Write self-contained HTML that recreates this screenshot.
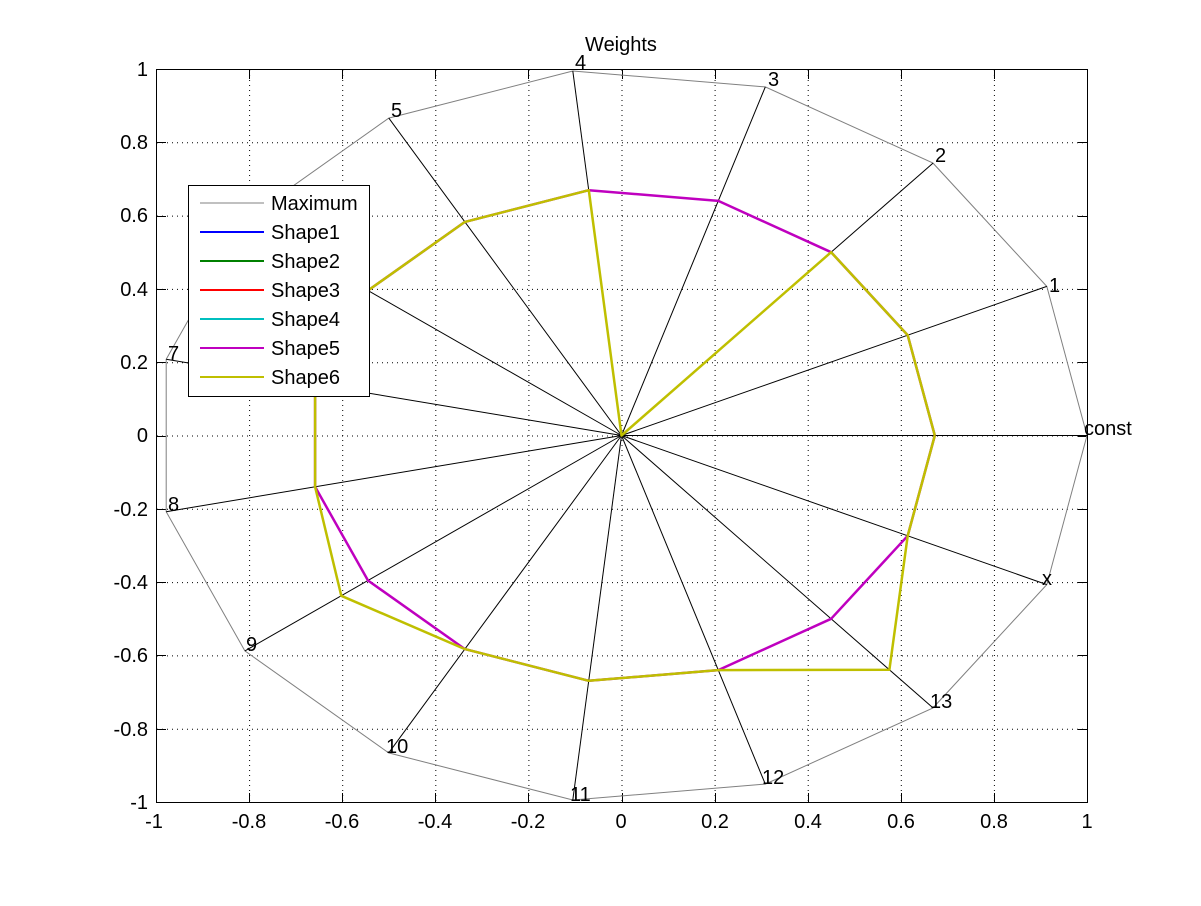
<!DOCTYPE html>
<html><head><meta charset="utf-8"><style>
html,body{margin:0;padding:0;background:#fff}
svg text{font-family:"Liberation Sans",sans-serif;font-size:20px;fill:#000}
</style></head><body>
<svg id="s" width="1201" height="901" xmlns="http://www.w3.org/2000/svg">
<rect x="0" y="0" width="1201" height="901" fill="#fff"/>
<g id="grid" stroke="#000" stroke-width="1" stroke-dasharray="1,4"></g>
<g id="ticks" stroke="#000" stroke-width="1"></g>
<g id="plot"></g>
<rect x="156.5" y="69.5" width="931" height="733" fill="none" stroke="#000" stroke-width="1"/>
<text x="621" y="51" text-anchor="middle">Weights</text>
<g text-anchor="end">
<text x="148" y="76">1</text><text x="148" y="149">0.8</text><text x="148" y="222">0.6</text>
<text x="148" y="296">0.4</text><text x="148" y="369">0.2</text><text x="148" y="442">0</text>
<text x="148" y="516">-0.2</text><text x="148" y="589">-0.4</text><text x="148" y="662">-0.6</text>
<text x="148" y="736">-0.8</text><text x="148" y="809">-1</text>
</g>
<g text-anchor="middle">
<text x="154" y="828">-1</text><text x="249" y="828">-0.8</text><text x="342" y="828">-0.6</text>
<text x="435" y="828">-0.4</text><text x="528" y="828">-0.2</text><text x="621" y="828">0</text>
<text x="715" y="828">0.2</text><text x="808" y="828">0.4</text><text x="901" y="828">0.6</text>
<text x="994" y="828">0.8</text><text x="1087" y="828">1</text>
</g>
<g>
<text x="1084" y="435">const</text>
<text x="1049" y="292">1</text>
<text x="935" y="162">2</text>
<text x="768" y="86">3</text>
<text x="575" y="69">4</text>
<text x="391" y="117">5</text>
<text x="168" y="360">7</text>
<text x="168" y="511">8</text>
<text x="246" y="651">9</text>
<text x="386" y="753">10</text>
<text x="570" y="801">11</text>
<text x="762" y="784">12</text>
<text x="930" y="708">13</text>
<text x="1042" y="585">x</text>
</g>
<rect x="188.5" y="185.5" width="181" height="211" fill="#fff" stroke="#000"/>
<g stroke-width="2">
<line x1="200" y1="203" x2="264" y2="203" stroke="#808080" stroke-width="1"/>
<line x1="200" y1="232" x2="264" y2="232" stroke="#0000ff"/>
<line x1="200" y1="261" x2="264" y2="261" stroke="#008000"/>
<line x1="200" y1="290" x2="264" y2="290" stroke="#ff0000"/>
<line x1="200" y1="319" x2="264" y2="319" stroke="#00bfbf"/>
<line x1="200" y1="348" x2="264" y2="348" stroke="#bf00bf"/>
<line x1="200" y1="377" x2="264" y2="377" stroke="#bfbf00"/>
</g>
<g>
<text x="271" y="210">Maximum</text><text x="271" y="239">Shape1</text>
<text x="271" y="268">Shape2</text><text x="271" y="297">Shape3</text>
<text x="271" y="326">Shape4</text><text x="271" y="355">Shape5</text>
<text x="271" y="384">Shape6</text>
</g>
</svg>
<script>
var NS="http://www.w3.org/2000/svg";
function X(v){return 621.5+v*465.5}function Y(v){return 435.5-v*366.5}
function el(p,t,a){var e=document.createElementNS(NS,t);for(var k in a)e.setAttribute(k,a[k]);document.getElementById(p).appendChild(e);}
for(var i=-4;i<=4;i++){var v=i*0.2;
 el("grid","line",{x1:X(v)+0.5,y1:70,x2:X(v)+0.5,y2:802});el("grid","line",{x1:157,y1:Y(v)+0.5,x2:1087,y2:Y(v)+0.5});}
for(var i=-5;i<=5;i++){var v=i*0.2,x=Math.round(X(v))+0.5,y=Math.round(Y(v))+0.5;
 el("ticks","line",{x1:x,y1:802,x2:x,y2:793});el("ticks","line",{x1:x,y1:70,x2:x,y2:79});
 el("ticks","line",{x1:157,y1:y,x2:166,y2:y});el("ticks","line",{x1:1087,y1:y,x2:1078,y2:y});}
function pt(r,k){var a=k*2*Math.PI/15;return X(r*Math.cos(a)).toFixed(1)+","+Y(r*Math.sin(a)).toFixed(1);}
var p=[];for(var k=0;k<=15;k++)p.push(pt(1,k));
el("plot","polyline",{points:p.join(" "),fill:"none",stroke:"#808080","stroke-width":1});
for(var k=0;k<15;k++)el("plot","line",{x1:X(0),y1:Y(0),x2:pt(1,k).split(",")[0],y2:pt(1,k).split(",")[1],stroke:"#000","stroke-width":1});
var r5=[],r6=[];for(var k=0;k<15;k++){r5.push(0.673);r6.push(0.673);}
r6[3]=0;r6[13]=0.86;r6[9]=0.744;
function sh(r,c){var q=[];for(var k=0;k<=15;k++)q.push(pt(r[k%15],k));el("plot","polyline",{points:q.join(" "),fill:"none",stroke:c,"stroke-width":2.5,"stroke-linejoin":"round"});}
sh(r5,"#bf00bf");sh(r6,"#bfbf00");
</script>
</body></html>
